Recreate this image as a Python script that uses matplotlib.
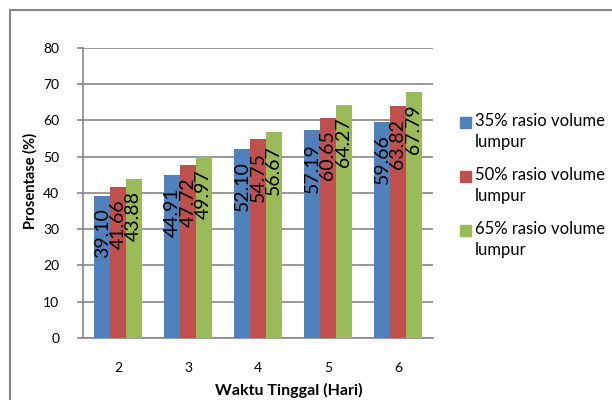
import matplotlib
matplotlib.use("Agg")
import matplotlib.pyplot as plt
from matplotlib.patches import Rectangle
import numpy as np

plt.rcParams['font.family'] = ['Lato', 'DejaVu Sans']

# data
days = ['2', '3', '4', '5', '6']
series_names = ['35% rasio volume\nlumpur', '50% rasio volume\nlumpur', '65% rasio volume\nlumpur']
vals_35 = [39.10, 44.91, 52.10, 57.19, 59.66]
vals_50 = [41.66, 47.72, 54.75, 60.65, 63.82]
vals_65 = [43.88, 49.97, 56.67, 64.27, 67.79]
colors = ['#4F81BD', '#C0504D', '#9BBB59']
grey = '#878787'

fig = plt.figure(figsize=(6.12, 4.0), dpi=100)
ax = fig.add_axes([83/612, 1 - 338/400, 350/612, (338 - 47.7)/400])

x = np.arange(len(days))
w = 0.225
for i, vals in enumerate([vals_35, vals_50, vals_65]):
    pos = x + (i - 1) * w
    ax.bar(pos, vals, width=w, color=colors[i], zorder=3)
    for px, v in zip(pos, vals):
        ax.annotate('%.2f' % v, (px, v), xytext=(0, -9), textcoords='offset points',
                    rotation=90, ha='center', va='top', fontsize=14, zorder=4)

ax.set_xlim(-0.5, len(days) - 0.5)
ax.set_ylim(0, 80)
ax.set_yticks(range(0, 81, 10))
ax.set_xticks(x)
ax.set_xticklabels(days)
ax.grid(axis='y', color=grey, linewidth=1.2, zorder=0)
for s in ['top', 'right']:
    ax.spines[s].set_visible(False)
for s in ['left', 'bottom']:
    ax.spines[s].set_color(grey)
    ax.spines[s].set_linewidth(1.2)
ax.tick_params(axis='y', length=4, color=grey, width=1.2, pad=13, labelsize=10)
ax.tick_params(axis='x', length=0, pad=17, labelsize=10)

fig.text(30/612, 1 - 181/400, 'Prosentase (%)', rotation=90, ha='center', va='center',
         fontsize=10.5, fontweight='bold')
fig.text(289/612, 1 - 390/400, 'Waktu Tinggal (Hari)', ha='center', va='center',
         fontsize=11.5, fontweight='bold')

# legend drawn by hand so the square sits on the first line
for i, name in enumerate(series_names):
    ytop = 117 + i * 54
    fig.patches.append(Rectangle((460/612, 1 - (ytop + 11)/400), 11/612, 11/400,
                                 transform=fig.transFigure, color=colors[i]))
    fig.text(475/612, 1 - (ytop - 4)/400, name, ha='left', va='top',
             fontsize=12, linespacing=1.35)

# outer chart frame
fig.patches.append(Rectangle((10/612, -0.1), 1.2, 1 - 10/400 + 0.1, transform=fig.transFigure,
                             fill=False, edgecolor=grey, linewidth=1.5))

fig.savefig('out.png', dpi=100)
